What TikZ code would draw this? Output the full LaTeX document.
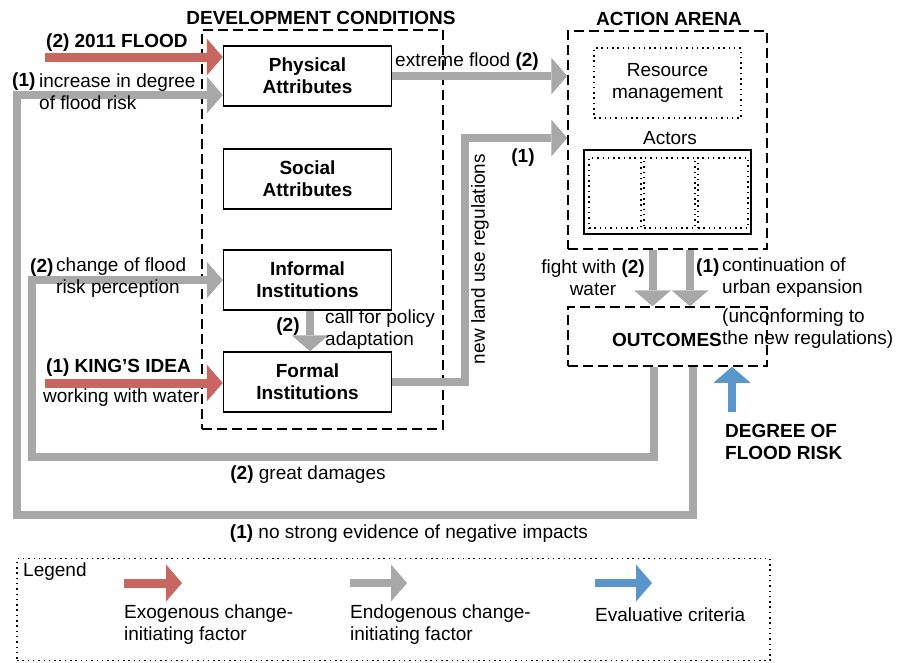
\documentclass[tikz,border=0pt]{standalone}
\usepackage{fontspec}
\setmainfont{Liberation Sans}
\usetikzlibrary{arrows.meta}
\definecolor{arrgray}{RGB}{168,168,168}
\definecolor{arrred}{RGB}{200,102,96}
\definecolor{arrblue}{RGB}{88,150,204}
\newcommand{\fsz}{\fontsize{19}{22}\selectfont}
\begin{document}
\begin{tikzpicture}[x=1pt,y=-1pt,
  every node/.style={font=\fsz, inner sep=0pt},
  box/.style={draw, line width=1.5pt, minimum width=168pt, minimum height=60pt, align=center, font=\fsz\bfseries},
  dbox/.style={draw, line width=1.5pt, dash pattern=on 10pt off 5pt},
  dotbox/.style={draw, line width=1.5pt, dash pattern=on 1.5pt off 3.8pt},
  tip/.style={-{Triangle[width=37pt,length=16pt,line width=0pt]}},
  garrow/.style={draw=arrgray, line width=8pt, tip},
  rarrow/.style={draw=arrred, line width=9pt, tip},
  barrow/.style={draw=arrblue, line width=8pt, tip},
  title/.style={font=\fsz\bfseries}]
\useasboundingbox (0,0) rectangle (909,662);

% containers
\node[dbox, minimum width=241pt, minimum height=399pt] (dev) at (322.5,229.5) {};
\node[title] at (321,18) {DEVELOPMENT CONDITIONS};
\node[dbox, minimum width=199pt, minimum height=218pt] (arena) at (667.5,140) {};
\node[title] at (669,19) {ACTION ARENA};
\node[dbox, minimum width=199pt, minimum height=59pt] (out) at (667.5,336.5) {};

% development conditions
\node[box] (phys) at (307.5,76) {Physical\\Attributes};
\node[box] (soc) at (307.5,179) {Social\\Attributes};
\node[box] (inf) at (307.5,280) {Informal\\Institutions};
\node[box] (form) at (307.5,382) {Formal\\Institutions};

% action arena content
\node[dotbox, minimum width=147pt, minimum height=70pt, align=center] (res) at (667.5,83) {Resource\\management};
\node (act) at (670,138) {Actors};
\node[draw, line width=1.5pt, minimum width=167pt, minimum height=84pt] (actbox) at (667.5,192) {};
\node[dotbox, minimum width=52pt, minimum height=70pt] (a1) at (615,193) {};
\node[dotbox, minimum width=51pt, minimum height=70pt] (a2) at (669.5,193) {};
\node[dotbox, minimum width=50pt, minimum height=70pt] (a3) at (723,193) {};

\node[font=\fsz\bfseries] (outl) at (667,340) {OUTCOMES};

% coordinates of free ends and bends
\coordinate (flood) at (45,57);
\coordinate (king) at (45,383);
\coordinate (nlu) at (465,138);
\coordinate (gd) at (32,457);
\coordinate (ne) at (17,515);
\coordinate (dfr) at (732,412);

% connectors
\draw[rarrow] (flood) -- (flood -| phys.west);
\draw[rarrow] (king) -- (king -| form.west);
\draw[garrow] (phys.east) -- (phys.east -| arena.west);
\draw[garrow] (form.east) -| (nlu) -- (nlu -| arena.west);
\draw[garrow] ([xshift=2.5pt]inf.south) -- ([xshift=2.5pt]form.north);
\draw[garrow] ([xshift=-15pt]arena.south) -- ([xshift=-15pt]out.north);
\draw[garrow] ([xshift=22.5pt]arena.south) -- ([xshift=22.5pt]out.north);
\draw[garrow] ([xshift=-14pt]out.south) |- (gd) |- (inf.west);
\draw[garrow] ([xshift=25pt]out.south) |- (ne) |- ([yshift=-19pt]phys.west);
\draw[barrow] (dfr) -- (dfr |- out.south);

% labels
\node[anchor=west, font=\fsz\bfseries] at (46,43) {(2) 2011 FLOOD};
\node[anchor=west, font=\fsz\bfseries] at (12,82) {(1)};
\node[anchor=west, align=left] at (39,92) {increase in degree\\of flood risk};
\node[anchor=west, font=\fsz\bfseries] at (30,268) {(2)};
\node[anchor=west, align=left] at (56,278) {change of flood\\risk perception};
\node[anchor=west, font=\fsz\bfseries] at (46,368) {(1) KING'S IDEA};
\node[anchor=west] at (43,398) {working with water};
\node[anchor=west] at (395,62) {extreme flood \textbf{(2)}};
\node[font=\fsz\bfseries] at (523,158) {(1)};
\node[rotate=90] at (480,259) {new land use regulations};
\node[font=\fsz\bfseries] at (288,327) {(2)};
\node[anchor=west, align=left] at (325,330) {call for policy\\adaptation};
\node[align=center] at (593,278) {fight with \textbf{(2)}\\water};
\node[anchor=west, font=\fsz\bfseries] at (696,268) {(1)};
\node[anchor=west, align=left] at (722,278) {continuation of\\urban expansion};
\node[anchor=west, align=left] at (722,329) {(unconforming to\\the new regulations)};
\node[anchor=west, align=left, font=\fsz\bfseries] at (725,442) {DEGREE OF\\FLOOD RISK};
\node at (308,475) {\textbf{(2)} great damages};
\node at (409,534) {\textbf{(1)} no strong evidence of negative impacts};

% legend
\node[dotbox, minimum width=753pt, minimum height=102pt] (leg) at (393.5,609.5) {};
\node[anchor=west] at (23,572) {Legend};
\coordinate (l1) at (124,583);
\coordinate (l2) at (350,583);
\coordinate (l3) at (595,583);
\draw[rarrow] (l1) -- ++(58,0);
\draw[garrow] (l2) -- ++(57,0);
\draw[barrow] (l3) -- ++(57,0);
\node[anchor=west, align=left] at (124,625) {Exogenous change-\\initiating factor};
\node[anchor=west, align=left] at (350,625) {Endogenous change-\\initiating factor};
\node[anchor=west] at (595,615) {Evaluative criteria};
\end{tikzpicture}
\end{document}
